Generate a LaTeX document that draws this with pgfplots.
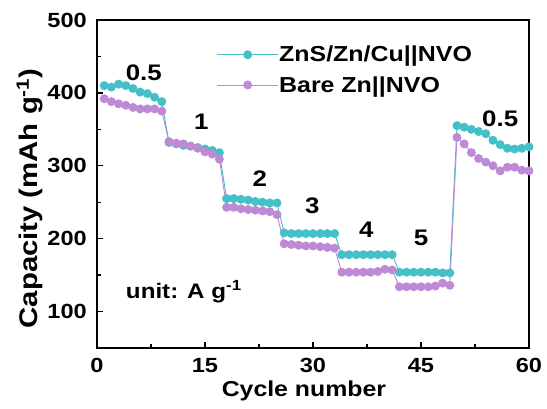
\documentclass[border=0pt]{standalone}
\usepackage{pgfplots}
\pgfplotsset{compat=1.18}
\usepackage{fontspec}
\setmainfont{Liberation Sans}[FakeStretch=1.15]
\definecolor{cya}{HTML}{45BFC8}
\definecolor{pur}{HTML}{BE8AD6}
\newcommand{\fsz}[1]{\fontsize{#1}{#1}\selectfont\bfseries}
\begin{document}
\begin{tikzpicture}
\useasboundingbox (-97pt,-61pt) rectangle (450pt,348pt);
\begin{axis}[
  at={(0,0)}, anchor=south west,
  width=432pt, height=328pt, scale only axis,
  xmin=0, xmax=60, ymin=50, ymax=500,
  xtick={0,15,30,45,60}, minor xtick={7.5,22.5,37.5,52.5},
  ytick={100,200,300,400,500}, minor ytick={150,250,350,450},
  tick align=inside, major tick length=6pt, minor tick length=4pt,
  axis line style={line width=1.6pt}, every tick/.style={line width=1.4pt, black},
  /pgf/number format/assume math mode=true,
  tick label style={font=\fsz{20.5}},
  yticklabel style={inner sep=0pt, anchor=east, xshift=-10pt},
  xticklabel style={inner sep=0pt, anchor=north, yshift=-10pt},
  xlabel={Cycle number}, ylabel={Capacity (mAh g\textsuperscript{-1})},
  xlabel style={font=\fsz{21.6}, at={(axis description cs:0.479,-0.149)}, anchor=base},
  ylabel style={font=\fsz{25.5}, at={(axis description cs:-0.155,0.456)}, anchor=center},
  xtick pos=bottom, ytick pos=left,
  legend style={at={(axis description cs:0.2755,0.924)}, anchor=north west, draw=none, fill=none, font=\fsz{21.7}, inner sep=0pt, row sep=11pt, nodes={inner sep=1pt}},
  legend cell align=left,
  legend image code/.code={\draw[#1] (0pt,0pt) -- (61pt,0pt); \draw[#1, mark repeat=1] plot coordinates {(31pt,0pt)};},
  clip=false,
]
\addplot[cya, line width=0.9pt, mark=*, mark size=4pt, mark options={ball color=cya, draw=none}] coordinates {
(1,410)(2,408)(3,412)(4,410)(5,406)(6,401)(7,399)(8,394)(9,388)
(10,332)(11,330)(12,328)(13,327)(14,325)(15,323)(16,321)(17,318)
(18,255)(19,255)(20,254)(21,253)(22,251)(23,250)(24,249)(25,249)
(26,208)(27,207)(28,207)(29,207)(30,207)(31,207)(32,207)(33,207)
(34,178)(35,178)(36,178)(37,178)(38,178)(39,178)(40,178)(41,178)
(42,154)(43,154)(44,154)(45,154)(46,154)(47,154)(48,153)(49,153)
(50,355)(51,353)(52,350)(53,347)(54,344)(55,335)(56,329)(57,324)(58,323)(59,324)(60,326)
};
\addlegendentry{ZnS/Zn/Cu||NVO}
\addplot[pur, line width=0.9pt, mark=*, mark size=4pt, mark options={ball color=pur, draw=none}] coordinates {
(1,392)(2,388)(3,385)(4,383)(5,380)(6,378)(7,378)(8,378)(9,375)
(10,333)(11,331)(12,330)(13,327)(14,324)(15,319)(16,316)(17,309)
(18,243)(19,243)(20,241)(21,240)(22,239)(23,238)(24,237)(25,233)
(26,193)(27,192)(28,191)(29,190)(30,190)(31,189)(32,188)(33,187)
(34,154)(35,154)(36,154)(37,154)(38,154)(39,155)(40,158)(41,157)
(42,134)(43,134)(44,134)(45,134)(46,134)(47,135)(48,139)(49,136)
(50,339)(51,330)(52,318)(53,310)(54,305)(55,300)(56,293)(57,298)(58,298)(59,294)(60,293)
};
\addlegendentry{Bare Zn||NVO}
\node[font=\fsz{22.5}] at (axis cs:6.5,428) {0.5};
\node[font=\fsz{22.5}] at (axis cs:14.5,360) {1};
\node[font=\fsz{22.5}] at (axis cs:22.6,283) {2};
\node[font=\fsz{22.5}] at (axis cs:29.9,245) {3};
\node[font=\fsz{22.5}] at (axis cs:37.4,212) {4};
\node[font=\fsz{22.5}] at (axis cs:45,201) {5};
\node[font=\fsz{22.5}] at (axis cs:56,364) {0.5};
\node[font=\fsz{21}, anchor=west, inner sep=0pt] at (axis cs:4.0,127) {unit: A g\textsuperscript{-1}};
\end{axis}
\end{tikzpicture}
\end{document}
